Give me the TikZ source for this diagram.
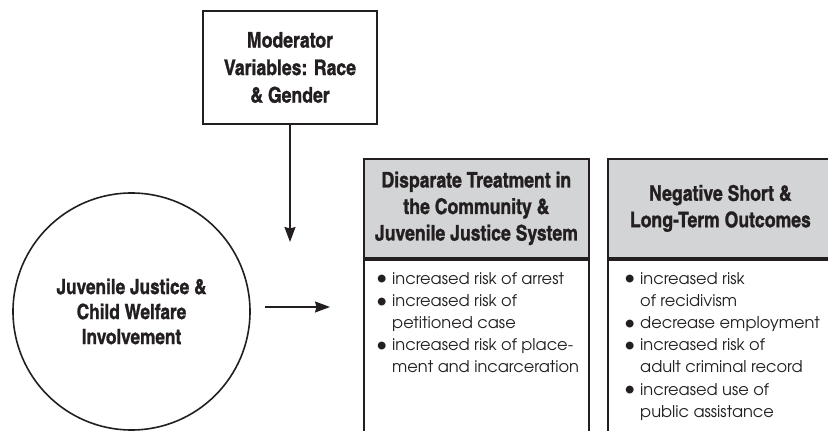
\documentclass[tikz,border=0pt]{standalone}
\usepackage{fontspec}
\usepackage{tikz}
\usetikzlibrary{arrows.meta, positioning}
\newfontfamily\hdrfont[FakeBold=1.2]{texgyreheroscn-bold.otf}
\newfontfamily\listfont{texgyreadventor-regular.otf}
\definecolor{myink}{RGB}{35,31,32}
\definecolor{mygray}{RGB}{211,212,214}
\newcommand{\bul}{\makebox[16pt][l]{\raisebox{-0.8pt}{\scalebox{1.35}{\textbullet}}}}
\newcommand{\cont}{\hspace*{16pt}}
\tikzset{
  modbox/.style={rectangle, draw=myink, fill=white, text=myink,
    minimum width=174pt, minimum height=113pt, align=center,
    font=\hdrfont\fontsize{21.5}{27.5}\selectfont, line width=1.8pt},
  hdrbox/.style={rectangle, draw=myink, fill=mygray, text=myink,
    minimum width=225pt, minimum height=99pt, align=center,
    font=\hdrfont\fontsize{21.5}{26.5}\selectfont, line width=1.8pt},
  bodybox/.style={rectangle, draw=myink, fill=white,
    minimum width=225pt, minimum height=172pt, line width=1.8pt},
  involve/.style={circle, draw=myink, fill=white, text=myink,
    minimum size=237pt, align=center, inner sep=0pt,
    font=\hdrfont\fontsize{21}{25}\selectfont, line width=1.6pt},
  itemtext/.style={align=left, inner sep=0pt, text=myink,
    font=\listfont\fontsize{16.2}{22.2}\selectfont},
  arrow/.style={-{Stealth[length=15pt, width=11pt, inset=1.5pt]},
    line width=1.5pt, color=myink}
}

\begin{document}
\begin{tikzpicture}[x=1pt, y=1pt]
  \useasboundingbox (0,0) rectangle (828,431);

  % Moderator (top)
  \node[modbox] (mod) at (290,363.5) {Moderator\\Variables: Race\\\& Gender};

  % Involvement circle (left)
  \node[involve] (circ) at (131.5,119.5) {Juvenile Justice \&\\Child Welfare\\Involvement};

  % Disparate treatment box
  \node[hdrbox, anchor=north west] (dis) at (363,273)
    {Disparate Treatment in\\the Community \&\\Juvenile Justice System};
  \node[bodybox, below=0pt of dis] (disbody) {};
  \node[itemtext, anchor=north west] (dislist) at (376,159)
    {\bul increased risk of arrest\\
     \bul increased risk of\\
     \cont petitioned case\\
     \bul increased risk of place-\\
     \cont ment and incarceration};

  % Outcomes box
  \node[hdrbox, anchor=north west] (out) at (607,273)
    {Negative Short \&\\Long-Term Outcomes};
  \node[bodybox, below=0pt of out] (outbody) {};
  \node[itemtext, anchor=north west] (outlist) at (624,159)
    {\bul increased risk\\
     \cont of recidivism\\
     \bul decrease employment\\
     \bul increased risk of\\
     \cont adult criminal record\\
     \bul increased use of\\
     \cont public assistance};

  % Arrows
  \coordinate (modtip) at (290,189);
  \coordinate (jtip) at (330,124);
  \draw[arrow] (mod.south) -- (modtip);
  \draw[arrow, shorten <=14pt] (circ.east |- jtip) -- (jtip);
\end{tikzpicture}
\end{document}
